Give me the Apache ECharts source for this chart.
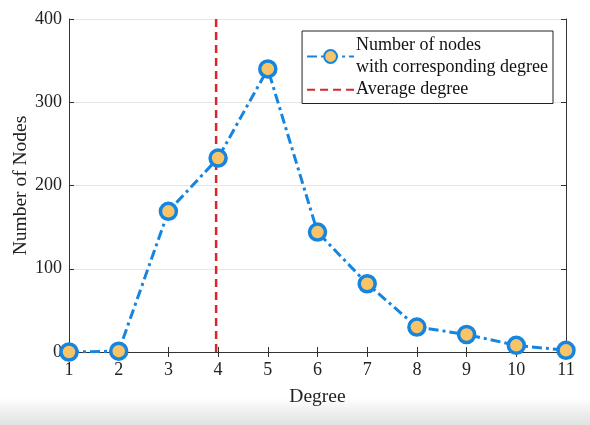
<!DOCTYPE html>
<html>
<head>
<meta charset="utf-8">
<script src="https://cdn.jsdelivr.net/npm/echarts@6/dist/echarts.min.js"></script>
<style>
  html, body { margin: 0; padding: 0; background: #fff; }
  #chart { width: 590px; height: 425px; }
</style>
</head>
<body>
<div id="chart"></div>
<script>
// degree values and node counts
var degrees = [1, 2, 3, 4, 5, 6, 7, 8, 9, 10, 11];
var nodeCounts = [0, 1, 169, 233, 340, 144, 82, 30, 21, 8, 2];
var averageDegree = 3.96;
var yTicks = [0, 100, 200, 300, 400];

var font = 'Liberation Serif';
var chart = echarts.init(document.getElementById('chart'));

var nodeData = [];
degrees.forEach(function (d, i) {
    nodeData.push([d, nodeCounts[i]]);
});

var option = {
    animation: false,
    textStyle: { fontFamily: font },
    grid: { left: 69, right: 24, top: 19, bottom: 73, containLabel: false, outerBoundsMode: 'none' },
    legend: {
        right: 37,
        top: 31,
        orient: 'vertical',
        itemWidth: 47,
        itemHeight: 16,
        itemGap: 1,
        padding: [4, 5, 3, 4],
        borderColor: '#222',
        borderWidth: 1,
        backgroundColor: '#fff',
        textStyle: { fontFamily: font, fontSize: 18, color: '#111', padding: [0, 0, 0, -3], lineHeight: 21.5 },
        data: [
            { name: 'Number of nodes\nwith corresponding degree' },
            { name: 'Average degree', itemStyle: { opacity: 0 } }
        ]
    },
    xAxis: [{
        type: 'value',
        min: 1, max: 11, interval: 1,
        name: 'Degree',
        nameLocation: 'middle',
        nameGap: 35,
        nameMoveOverlap: false,
        nameTextStyle: { fontFamily: font, fontSize: 19.5, color: '#222' },
        axisLine: { lineStyle: { color: '#333', width: 1 } },
        axisTick: { inside: true, length: 5, lineStyle: { color: '#333' } },
        axisLabel: { fontFamily: font, fontSize: 18, color: '#222', margin: 9 },
        splitLine: { show: false }
    }, {
        type: 'value',
        position: 'top',
        min: 1, max: 11, interval: 1,
        axisLine: { show: true, lineStyle: { color: '#333', width: 1 } },
        axisTick: { inside: true, length: 5, lineStyle: { color: '#333' } },
        axisLabel: { show: false },
        splitLine: { show: false }
    }],
    yAxis: [{
        type: 'value',
        min: yTicks[0], max: yTicks[yTicks.length - 1], interval: 100,
        name: 'Number of Nodes',
        nameLocation: 'middle',
        nameGap: 38,
        nameMoveOverlap: false,
        nameTextStyle: { fontFamily: font, fontSize: 19.5, color: '#222' },
        axisLine: { show: true, lineStyle: { color: '#333', width: 1 } },
        axisTick: { show: true, inside: true, length: 5, lineStyle: { color: '#333' } },
        axisLabel: { fontFamily: font, fontSize: 18, color: '#222', margin: 7, showMinLabel: true, hideOverlap: false },
        splitLine: { show: true, lineStyle: { color: '#e6e6e6', width: 1 } }
    }, {
        type: 'value',
        position: 'right',
        min: yTicks[0], max: yTicks[yTicks.length - 1], interval: 100,
        axisLine: { show: true, lineStyle: { color: '#333', width: 1 } },
        axisTick: { show: true, inside: true, length: 5, lineStyle: { color: '#333' } },
        axisLabel: { show: false },
        splitLine: { show: false }
    }],
    series: [{
        name: 'Number of nodes\nwith corresponding degree',
        type: 'line',
        data: nodeData,
        symbol: 'circle',
        symbolSize: 16,
        z: 3,
        lineStyle: { color: '#1585e0', width: 3, type: [10, 4, 3, 4] },
        itemStyle: { color: '#f8c466', borderColor: '#1585e0', borderWidth: 3.5 }
    }, {
        name: 'Average degree',
        type: 'line',
        data: [[averageDegree, yTicks[0]], [averageDegree, yTicks[yTicks.length - 1]]],
        symbol: 'none',
        z: 2,
        lineStyle: { color: '#d9262c', width: 2.5, type: [8, 5] },
        itemStyle: { color: '#d9262c' }
    }],
    graphic: [{
        type: 'rect',
        left: 0, top: 398,
        shape: { width: 590, height: 27 },
        silent: true,
        style: {
            fill: new echarts.graphic.LinearGradient(0, 0, 0, 1, [
                { offset: 0, color: 'rgba(255,255,255,1)' },
                { offset: 0.6, color: 'rgba(236,236,236,1)' },
                { offset: 1, color: 'rgba(226,226,226,1)' }
            ])
        }
    }]
};

chart.setOption(option);
</script>
</body>
</html>
